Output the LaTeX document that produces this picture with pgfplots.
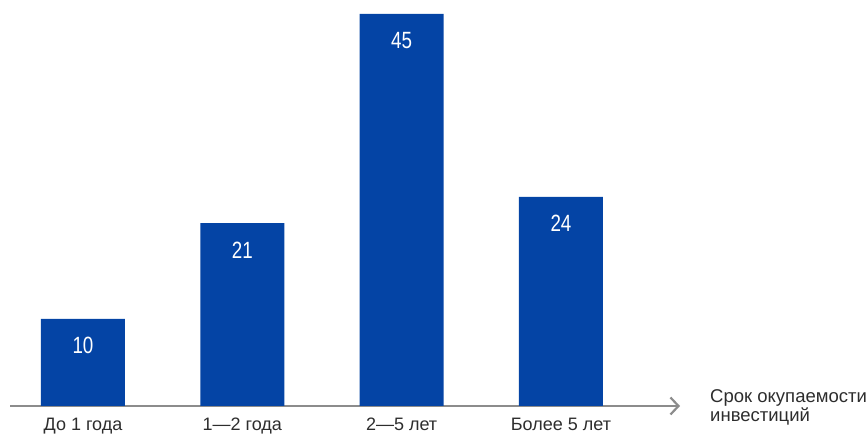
\documentclass[border=0pt]{standalone}
\usepackage{pgfplots}
\pgfplotsset{compat=1.18}
\usepackage{fontspec}
\setmainfont{Liberation Sans}
\newfontfamily\condfont[FakeStretch=0.8]{Liberation Sans}
\usetikzlibrary{arrows.meta}
\definecolor{barblue}{RGB}{4,68,165}
\definecolor{axgray}{RGB}{140,140,140}
\definecolor{txt}{RGB}{45,45,45}
\begin{document}
\begin{tikzpicture}
\begin{axis}[
  scale only axis,
  width=670pt, height=392pt,
  xmin=-0.458, xmax=3.747,
  ymin=0, ymax=45,
  axis x line=bottom,
  axis y line=none,
  x axis line style={draw=axgray, line width=2.2pt, -{Straight Barb[length=8pt,width=17pt,line width=2.2pt]}},
  xtick=data,
  xticklabels={До 1 года, 1—2 года, 2—5 лет, Более 5 лет},
  xticklabel style={anchor=base, yshift=-25pt, font=\fontsize{18}{20}\selectfont, text=txt, inner sep=0pt},
  major tick length=0pt,
  ytick=\empty,
  clip=false,
]
\addplot[ybar, bar width=84pt, fill=barblue, draw=none,
  nodes near coords={\pgfmathprintnumber[assume math mode=true]{\pgfplotspointmeta}},
  every node near coord/.style={anchor=base, yshift=-35pt, text=white, font=\condfont\fontsize{23.5}{25}\selectfont, inner sep=0pt},
] coordinates {(0,10) (1,21) (2,45) (3,24)};
\end{axis}
\node[anchor=base west, align=left, text=txt, font=\fontsize{18.5}{19}\selectfont, inner sep=0pt] at (700pt,-16pt) {Срок окупаемости\\инвестиций};
\pgfresetboundingbox
\useasboundingbox (-10pt,-29pt) rectangle (857pt,406pt);
\end{tikzpicture}
\end{document}
